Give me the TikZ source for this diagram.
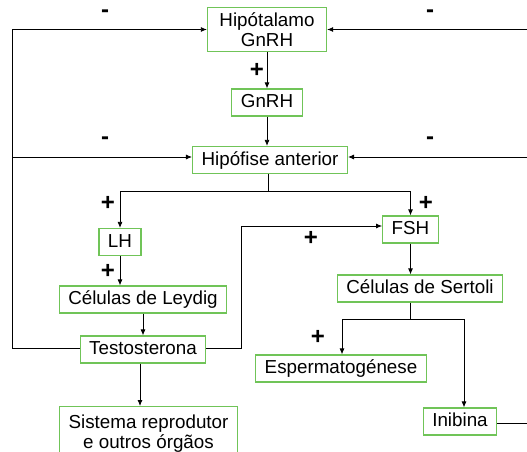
\documentclass[tikz,border=0pt]{standalone}
\usepackage{fontspec}
\setmainfont{Liberation Sans}
\usetikzlibrary{calc, arrows.meta, positioning}
\definecolor{boxgreen}{RGB}{112,196,88}

\begin{document}
\begin{tikzpicture}[x=1pt, y=-1pt, >={Latex[length=6pt,width=5pt]}, line width=0.8pt]
	\tikzstyle{box} = [draw=boxgreen, line width=1.2pt, rectangle, inner xsep=9pt, inner ysep=4.5pt,
		text height=14pt, text depth=4pt, font=\fontsize{18.8}{20.5}\selectfont, align=center]
	\tikzstyle{tallbox} = [box, text height=, text depth=]
	\tikzstyle{sign} = [font=\fontsize{24}{24}\selectfont\bfseries]
	
	\useasboundingbox (0,0) rectangle (527,452);
	
	\node[tallbox, inner xsep=12pt] 	at (267, 29.5)		(hipot)	{Hip\'otalamo\\GnRH};
	\node[box] 	at (267, 102.5)		(gnrh)	{GnRH};
	\node[box] 	at (270, 160)		(hipof)	{Hip\'ofise anterior};
	
	\node[box] 	at (120, 242)		(lh)	{LH};
	\node[box] 	at (410.5, 229.5)	(fsh)	{FSH};
	\node[box] 	at (143, 299.5)		(leydig)	{C\'elulas de Leydig};
	\node[box] 	at (143, 349.5)		(testo)	{Testosterona};
	\node[tallbox, anchor=north, minimum height=54pt] 	at (148.5, 406)	(sistema)	{Sistema reprodutor\\e outros \'org\~aos};
	
	\node[box] 	at (420, 288.5)		(sertoli)	{C\'elulas de Sertoli};
	\node[box] 	at (341, 368.5)		(esperm)	{Espermatog\'enese};
	\node[box] 	at (460, 421.5)		(inib)	{Inibina};
	
	% sinais
	\node[sign] 	at (105, 14)	(m1)	{-};
	\node[sign] 	at (430, 14)	(m2)	{-};
	\node[sign] 	at (105, 141)	(m3)	{-};
	\node[sign] 	at (430, 141)	(m4)	{-};
	\node[sign] 	at (257, 70)	(p1)	{+};
	\node[sign] 	at (108, 203)	(p2)	{+};
	\node[sign] 	at (426, 203)	(p3)	{+};
	\node[sign] 	at (108, 271)	(p4)	{+};
	\node[sign] 	at (311, 238)	(p5)	{+};
	\node[sign] 	at (318, 337)	(p6)	{+};
	
	\coordinate (left) at (12, 348);
	\coordinate (right) at (531, 423);
	\coordinate (split) at (268, 191);
	\coordinate (split2) at (410, 319);
	\coordinate (hipofL) at ($(hipof.west)+(0,-3)$);
	\coordinate (hipofR) at ($(hipof.east)+(0,-3)$);
	\coordinate (fshL) at ($(fsh.west)+(0,-3.5)$);
	
	\path[->]
	(hipot)	edge	(gnrh)
	(gnrh)	edge	(gnrh |- hipof.north)
	(lh)	edge	(lh |- leydig.north)
	(leydig)	edge	(testo)
	(testo.south -| 140,0)	edge	(sistema.north -| 140,0)
	(fsh.south)	edge	(fsh.south |- sertoli.north);
	
	% ramos
	\draw (hipof.south -| split) -- (split);
	\draw[->] (split) -| (lh.north);
	\draw[->] (split) -| (fsh.north);
	\draw (sertoli.south -| split2) -- (split2);
	\draw[->] (split2) -| (esperm.north -| 342,0);
	\draw[->] (split2) -| (inib.north -| 464,0);
	
	% retroalimentacao
	\draw[->] (testo.west |- left) -- (left) |- (hipot.west);
	\draw[->] (left |- hipofL) -- (hipofL);
	\draw[->] (testo.east |- left) -- (241, 348) |- (fshL);
	\draw[->] (inib.east |- right) -- (right) |- (hipot.east);
	\draw[->] (right |- hipofR) -- (hipofR);
\end{tikzpicture}
\end{document}
